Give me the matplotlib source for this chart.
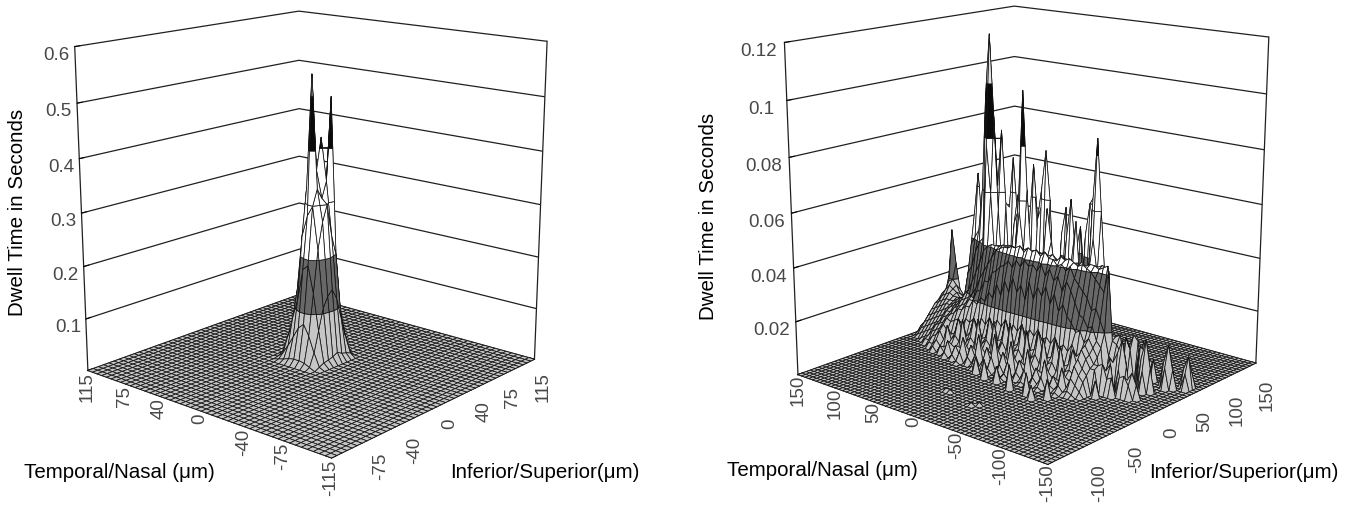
import numpy as np
import matplotlib
matplotlib.use('Agg')
import matplotlib.pyplot as plt
from mpl_toolkits.mplot3d.art3d import Poly3DCollection

plt.rcParams['font.family'] = ['Liberation Sans', 'DejaVu Sans']

W = 1355
H = 507

# left chart: dwell time in seconds, everything outside the block is zero
left_axis = np.arange(-115, 120, 5)
left_x_labels = [115, 75, 40, 0, -40, -75]
left_y_labels = [115, 75, 40, 0, -40, -75, -115]
left_z_ticks = [0.1, 0.2, 0.3, 0.4, 0.5, 0.6]
left_z_names = ['0.1', '0.2', '0.3', '0.4', '0.5', '0.6']
left_levels = [0, 0.1, 0.2, 0.3, 0.4, 0.5, 0.6]
left_first_row = 21
left_first_col = 21
left_block = [
    [0, .005, .010, .012, .015, .020, .015, .012, .008, 0],
    [.005, .03, .07, .11, .13, .14, .12, .08, .04, .006],
    [.010, .06, .14, .22, .27, .30, .24, .20, .09, .010],
    [.012, .08, .19, .30, .33, .31, .34, .495, .11, .010],
    [.012, .07, .18, .28, .54, .36, .42, .31, .09, .008],
    [.010, .05, .12, .24, .33, .30, .29, .17, .06, .006],
    [.006, .03, .08, .13, .20, .22, .16, .09, .03, 0],
    [.003, .012, .04, .06, .08, .09, .07, .03, .01, 0],
    [0, .002, .008, .012, .015, .015, .01, .005, 0, 0],
]

# right chart: thousandths of a second
right_axis = np.arange(-150, 155, 5)
right_x_labels = [150, 100, 50, 0, -50, -100]
right_y_labels = [150, 100, 50, 0, -50, -100, -150]
right_z_ticks = [0.02, 0.04, 0.06, 0.08, 0.1, 0.12]
right_z_names = ['0.02', '0.04', '0.06', '0.08', '0.1', '0.12']
right_levels = [0, 0.02, 0.04, 0.06, 0.08, 0.1, 0.12]
right_first_row = 14
right_first_col = 22
right_block = [
    [0, 0, 0, 2, 5, 7, 9, 10, 12, 15, 20, 42, 18],
    [0, 0, 1, 4, 7, 9, 12, 13, 15, 17, 24, 34, 43, 20],
    [0, 0, 2, 6, 10, 12, 15, 16, 18, 22, 28, 36, 42, 41, 16],
    [0, 0, 1, 2, 4, 6, 9, 13, 16, 21, 27, 38, 41, 42, 40, 14],
    [0, 1, 3, 9, 5, 7, 14, 11, 20, 24, 31, 40, 42, 41, 40, 36, 12],
    [0, 0, 1, 2, 3, 6, 8, 15, 19, 25, 33, 41, 42, 40, 38, 34, 30, 10],
    [0, 0, 2, 5, 3, 15, 7, 12, 22, 29, 35, 42, 41, 40, 36, 32, 28, 24, 9],
    [0, 0, 0, 1, 3, 5, 9, 14, 24, 33, 37, 41, 42, 39, 35, 31, 27, 23, 20, 8],
    [0, 1, 4, 10, 5, 8, 16, 12, 28, 36, 41, 42, 40, 38, 34, 30, 26, 22, 19, 15, 6],
    [0, 0, 1, 2, 4, 7, 9, 16, 25, 32, 39, 43, 41, 38, 33, 29, 25, 21, 18, 14, 11, 5],
    [0, 0, 3, 6, 4, 16, 8, 13, 31, 37, 41, 42, 40, 37, 32, 28, 24, 20, 17, 13, 10, 7, 3],
    [0, 0, 0, 2, 3, 6, 9, 15, 27, 35, 40, 43, 41, 36, 31, 27, 23, 19, 16, 13, 10, 7, 3, 1],
    [0, 1, 5, 12, 6, 9, 17, 13, 33, 39, 42, 41, 40, 36, 30, 26, 22, 19, 16, 12, 9, 6, 3, 1],
    [0, 0, 1, 3, 4, 7, 10, 17, 29, 36, 42, 43, 41, 35, 30, 26, 22, 18, 15, 12, 9, 6, 3, 1],
    [0, 0, 3, 7, 5, 17, 9, 14, 32, 40, 44, 42, 40, 35, 29, 25, 21, 18, 15, 11, 8, 6, 3, 1],
    [0, 0, 0, 2, 4, 6, 10, 16, 27, 37, 42, 43, 41, 34, 29, 25, 21, 17, 14, 11, 8, 5, 3, 1],
    [1, 2, 6, 13, 6, 9, 18, 13, 33, 39, 44, 42, 40, 34, 28, 24, 20, 17, 14, 10, 8, 5, 2, 1],
    [0, 0, 1, 3, 5, 8, 10, 17, 26, 38, 43, 43, 40, 33, 28, 24, 20, 16, 13, 10, 7, 5, 2, 1],
    [0, 0, 4, 8, 5, 18, 9, 14, 31, 40, 44, 42, 39, 33, 27, 23, 19, 16, 13, 10, 7, 4, 2, 1],
    [0, 0, 1, 3, 4, 7, 11, 16, 28, 37, 42, 43, 39, 32, 27, 23, 19, 15, 12, 9, 7, 4, 2],
    [1, 2, 6, 14, 7, 10, 18, 13, 33, 39, 44, 42, 38, 32, 26, 22, 18, 15, 12, 9, 6, 4, 2],
    [0, 0, 1, 3, 5, 7, 10, 17, 27, 36, 43, 42, 38, 31, 26, 22, 18, 14, 11, 9, 6, 4, 2],
    [0, 0, 4, 8, 5, 17, 9, 14, 31, 38, 43, 42, 37, 31, 25, 21, 17, 14, 11, 8, 6, 3, 1],
    [0, 0, 1, 2, 4, 7, 10, 16, 25, 36, 42, 42, 37, 30, 25, 21, 17, 13, 10, 8, 5, 3, 1],
    [0, 1, 5, 12, 6, 9, 17, 13, 29, 35, 42, 41, 36, 30, 24, 20, 16, 13, 10, 7, 5, 3, 1],
    [0, 0, 1, 3, 4, 7, 9, 16, 23, 33, 41, 42, 36, 29, 24, 20, 16, 12, 9, 7, 4, 2, 1],
    [0, 0, 3, 7, 5, 16, 8, 13, 25, 32, 40, 41, 35, 29, 23, 19, 15, 12, 9, 6, 4, 2, 1],
    [0, 0, 0, 2, 3, 6, 9, 15, 21, 28, 37, 41, 35, 28, 23, 19, 15, 11, 8, 6, 4, 2],
    [0, 1, 4, 9, 5, 8, 15, 11, 22, 28, 34, 41, 34, 28, 22, 18, 14, 11, 8, 5, 3, 1],
    [0, 0, 0, 2, 3, 6, 9, 14, 19, 24, 31, 40, 36, 27, 22, 18, 14, 10, 7, 5, 3, 1],
    [0, 0, 2, 5, 4, 14, 7, 12, 20, 23, 28, 38, 43, 42, 28, 22, 17, 13, 9, 6, 4, 2],
    [0, 0, 0, 1, 3, 5, 8, 13, 17, 19, 24, 33, 42, 43, 30, 24, 18, 14, 9, 6, 3, 1],
    [0, 0, 2, 6, 4, 7, 13, 10, 17, 19, 21, 29, 40, 45, 32, 24, 18, 13, 8, 5, 3, 1],
    [0, 0, 0, 1, 3, 5, 7, 12, 15, 17, 19, 25, 36, 44, 34, 22, 16, 12, 7, 4, 2, 1],
    [0, 0, 0, 3, 2, 10, 6, 11, 15, 16, 18, 21, 30, 41, 36, 20, 14, 10, 6, 4, 2],
    [0, 0, 0, 0, 2, 4, 7, 10, 13, 15, 17, 19, 27, 38, 41, 18, 12, 9, 5, 3, 1],
    [0, 0, 0, 2, 4, 7, 9, 11, 12, 14, 15, 16, 17, 18, 17, 14, 10, 8, 4, 2, 1],
    [0, 0, 0, 0, 2, 5, 7, 9, 11, 12, 14, 15, 16, 16, 14, 12, 8, 6, 3, 2],
    [0, 0, 0, 0, 2, 4, 6, 8, 10, 12, 13, 14, 15, 15, 15, 10, 7, 5, 3, 1],
    [0, 0, 0, 0, 0, 2, 5, 7, 8, 10, 12, 13, 14, 15, 14, 14, 9, 4, 2, 1],
    [0, 0, 0, 0, 0, 2, 3, 5, 7, 9, 11, 13, 14, 15, 16, 15, 14, 4, 2],
    [0, 0, 0, 0, 0, 0, 2, 4, 6, 8, 10, 12, 14, 16, 17, 18, 16, 3, 1],
    [0, 0, 0, 0, 0, 0, 1, 3, 5, 7, 9, 11, 13, 15, 18, 20, 26, 4, 1],
    [0, 0, 0, 0, 0, 0, 0, 2, 4, 6, 8, 10, 12, 14, 16, 19, 33, 8],
    [0, 0, 0, 0, 0, 0, 0, 1, 3, 5, 7, 9, 11, 12, 14, 14, 20, 5],
    [0, 0, 0, 0, 0, 0, 0, 0, 1, 3, 4, 6, 7, 7, 8, 7, 6, 2],
]
# tall peaks standing on the block (row, col, thousandths)
peak_rows = [44, 45, 43, 44, 44, 43, 45, 46, 42, 43,
             42, 41, 42, 48, 47, 48, 49,
             40, 39, 41, 40, 35, 35, 36,
             32, 33, 31, 32, 33, 34, 34,
             35, 36, 34, 35, 35,
             20, 19, 21, 20, 20, 23, 24, 24, 23, 22, 25,
             27, 27, 28, 28, 29, 30, 29, 26, 25, 27, 24, 25, 38, 37, 36, 38, 57]
peak_cols = [35, 35, 35, 34, 36, 36, 36, 35, 35, 34,
             36, 36, 37, 36, 36, 37, 36,
             37, 37, 37, 38, 37, 38, 37,
             37, 37, 37, 38, 38, 38, 37,
             34, 34, 34, 33, 35,
             37, 37, 37, 38, 36, 40, 40, 41, 41, 40, 40,
             41, 42, 41, 38, 38, 35, 35, 37, 37, 37, 36, 36, 36, 35, 36, 35, 38]
peak_vals = [118, 96, 88, 78, 84, 62, 58, 60, 54, 60,
             83, 56, 50, 65, 44, 38, 50,
             73, 52, 54, 44, 72, 48, 50,
             78, 64, 60, 50, 52, 56, 52,
             100, 62, 64, 56, 58,
             86, 60, 62, 52, 50, 63, 60, 52, 46, 44, 48,
             50, 34, 40, 58, 48, 58, 46, 62, 44, 48, 55, 40, 60, 55, 46, 50, 39]
# smaller separate spikes in front of the block
spike_rows = [10, 10, 11, 9, 10, 11, 12, 12, 13, 13, 13, 12, 11, 13, 7, 7, 8, 6, 7, 8, 9, 9, 10, 11, 12, 12, 13, 13,
              5, 5, 6, 4, 5, 6, 2, 2, 3, 2, 13, 12, 11, 13, 10, 9, 13, 12, 13, 12, 11, 12, 11, 10, 9, 8, 8, 7, 6, 7, 12,
              34, 33, 26, 25, 30, 26, 22, 18, 20, 33, 36]
spike_cols = [32, 33, 32, 32, 31, 33, 33, 32, 33, 32, 34, 34, 34, 35, 35, 36, 35, 35, 34, 36, 36, 37, 37, 38, 38, 37, 37, 38,
              39, 38, 39, 39, 40, 40, 41, 40, 41, 42, 40, 41, 41, 42, 41, 40, 28, 27, 29, 29, 29, 30, 30, 29, 30, 30, 31, 31, 31, 30, 31,
              12, 12, 10, 11, 21, 20, 20, 21, 19, 21, 22]
spike_vals = [19, 12, 14, 10, 9, 13, 16, 10, 17, 12, 18, 19, 9, 15, 19, 11, 12, 9, 8, 14, 15, 10, 13, 15, 17, 12, 16, 12,
              16, 8, 9, 7, 9, 7, 12, 6, 7, 6, 10, 13, 7, 9, 6, 8, 9, 6, 10, 11, 6, 8, 11, 7, 7, 8, 6, 9, 5, 5, 12,
              1, 1, 1, 1, 6, 9, 8, 7, 5, 7, 6]

band_colors = ['#c6c6c6', '#686868', '#ffffff', '#ffffff', '#0a0a0a', '#e4e4e4']


def clip_side(poly, level, keep_above):
    out = []
    n = len(poly)
    for i in range(n):
        a = poly[i]
        b = poly[(i + 1) % n]
        a_in = a[2] >= level if keep_above else a[2] <= level
        b_in = b[2] >= level if keep_above else b[2] <= level
        if a_in:
            out.append(a)
        if a_in != b_in:
            t = (level - a[2]) / (b[2] - a[2])
            out.append((a[0] + t * (b[0] - a[0]), a[1] + t * (b[1] - a[1]), level))
    return out


def surface_polys(axis, z, levels):
    polys = []
    colors = []
    n = len(axis)
    for i in range(n - 1):
        for j in range(n - 1):
            quad = [(axis[j], axis[i], z[i, j]), (axis[j + 1], axis[i], z[i, j + 1]),
                    (axis[j + 1], axis[i + 1], z[i + 1, j + 1]), (axis[j], axis[i + 1], z[i + 1, j])]
            top = max(q[2] for q in quad)
            if top == 0:
                polys.append(quad)
                colors.append(band_colors[0])
                continue
            for k in range(len(levels) - 1):
                if top < levels[k]:
                    break
                part = clip_side(quad, levels[k], True)
                if len(part) > 2:
                    part = clip_side(part, levels[k + 1], False)
                if len(part) > 2:
                    polys.append(part)
                    colors.append(band_colors[k])
    return polys, colors


def draw_panel(box, axis, x_labels, y_labels, z, levels, z_ticks, z_names, pads):
    left, bottom, size = box
    ax = fig.add_axes([left / W, bottom / H, size / W, size / H], projection='3d')
    ax.set_facecolor('none')
    ax.view_init(elev=15.19, azim=-139.02)
    ax.set_proj_type('persp', focal_length=0.52)
    ax.set_box_aspect((1, 1, 1.021))
    ax.set_xlim(axis[0], axis[-1], view_margin=0)
    ax.set_ylim(axis[0], axis[-1], view_margin=0)
    ax.set_zlim(0, levels[-1], view_margin=0)

    ax.set_xticks(axis, labels=[str(v) if v in x_labels else '' for v in axis])
    ax.set_yticks(axis, labels=[str(v) if v in y_labels else '' for v in axis])
    ax.set_zticks([0] + z_ticks, labels=[''] + z_names)
    ax.tick_params(axis='x', labelrotation=90, labelsize=13.5, pad=pads[0], labelcolor='#484848')
    ax.tick_params(axis='y', labelrotation=90, labelsize=13.5, pad=pads[1], labelcolor='#484848')
    ax.tick_params(axis='z', labelsize=13.5, pad=pads[2], labelcolor='#484848')

    for a in [ax.xaxis, ax.yaxis, ax.zaxis]:
        a.set_pane_color((1, 1, 1, 1))
        a.line.set_color('#202020')
        a.line.set_linewidth(0.9)
        a._axinfo['tick']['inward_factor'] = 0.0
        a._axinfo['tick']['outward_factor'] = 0.25
        a._axinfo['tick']['linewidth'] = {True: 0.7, False: 0.7}
    ax.grid(True)
    ax.xaxis._axinfo['grid']['linewidth'] = 0
    ax.yaxis._axinfo['grid']['linewidth'] = 0
    ax.zaxis._axinfo['grid']['color'] = '#202020'
    ax.zaxis._axinfo['grid']['linewidth'] = 0.9

    # right hand edge of the wall
    ax.plot([axis[-1], axis[-1]], [axis[0], axis[0]], [0, levels[-1]], color='#202020', lw=0.9)

    polys, colors = surface_polys(axis, z, levels)
    coll = Poly3DCollection(polys, facecolors=colors, edgecolors='#141414', linewidths=0.55, zsort='average')
    ax.add_collection3d(coll, autolim=False)
    return ax


def left_surface():
    z = np.zeros((len(left_axis), len(left_axis)))
    for k, row in enumerate(left_block):
        z[left_first_row + k, left_first_col:left_first_col + len(row)] = row
    return z


def right_surface():
    z = np.zeros((len(right_axis), len(right_axis)))
    for k, row in enumerate(right_block):
        z[right_first_row + k, right_first_col:right_first_col + len(row)] = np.array(row) / 1000
    z[spike_rows, spike_cols] = np.array(spike_vals) / 1000
    z[peak_rows, peak_cols] = np.array(peak_vals) / 1000
    return z


fig = plt.figure(figsize=(W / 100, H / 100), dpi=100)

draw_panel((30.4, 15.2, 551), left_axis, left_x_labels, left_y_labels, left_surface(), left_levels, left_z_ticks, left_z_names, (-1, -7, 0))
draw_panel((739, 8, 565), right_axis, right_x_labels, right_y_labels, right_surface(), right_levels, right_z_ticks, right_z_names, (1, -8, 3))

label_size = 14.8
fig.text(18 / W, 1 - 212 / H, 'Dwell Time in Seconds', rotation=90, ha='center', va='center', fontsize=label_size)
fig.text(708 / W, 1 - 216 / H, 'Dwell Time in Seconds', rotation=90, ha='center', va='center', fontsize=label_size)
fig.text(119 / W, 1 - 472 / H, 'Temporal/Nasal (μm)', ha='center', va='center', fontsize=label_size)
fig.text(822 / W, 1 - 471 / H, 'Temporal/Nasal (μm)', ha='center', va='center', fontsize=label_size)
fig.text(545 / W, 1 - 473 / H, 'Inferior/Superior(μm)', ha='center', va='center', fontsize=label_size)
fig.text(1244 / W, 1 - 472 / H, 'Inferior/Superior(μm)', ha='center', va='center', fontsize=label_size)

fig.savefig('out.png', dpi=100)
